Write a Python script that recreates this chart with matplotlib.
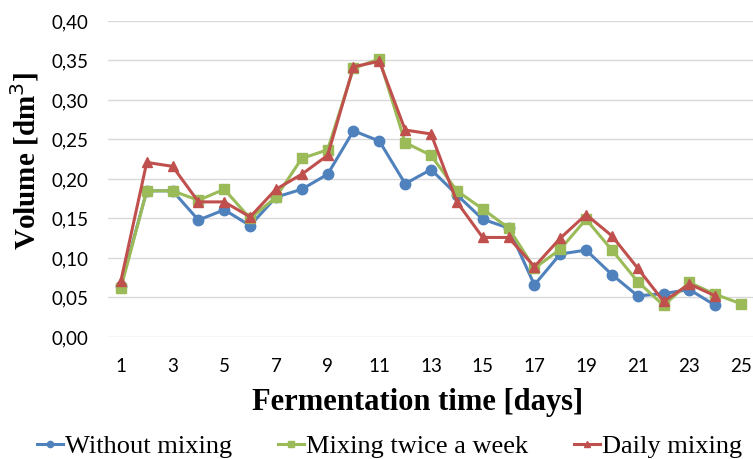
import numpy as np
import matplotlib.pyplot as plt

# data
days = list(range(1, 26))
without_mixing = [0.065, 0.185, 0.185, 0.148, 0.161, 0.141, 0.177, 0.187, 0.206, 0.261,
                  0.248, 0.194, 0.212, 0.180, 0.149, 0.138, 0.066, 0.105, 0.110, 0.079,
                  0.052, 0.055, 0.060, 0.040]
twice_a_week = [0.062, 0.185, 0.185, 0.173, 0.187, 0.150, 0.177, 0.226, 0.237, 0.340,
                0.352, 0.246, 0.230, 0.185, 0.162, 0.138, 0.087, 0.111, 0.149, 0.110,
                0.070, 0.040, 0.069, 0.054, 0.042]
daily_mixing = [0.071, 0.221, 0.216, 0.171, 0.171, 0.152, 0.187, 0.206, 0.230, 0.342,
                0.349, 0.262, 0.257, 0.171, 0.126, 0.126, 0.089, 0.125, 0.155, 0.128,
                0.087, 0.045, 0.067, 0.052]
labels = ["Without mixing", "Mixing twice a week", "Daily mixing"]
yticks = [0.00, 0.05, 0.10, 0.15, 0.20, 0.25, 0.30, 0.35, 0.40]

fig = plt.figure(figsize=(7.53, 4.59), dpi=100)
ax = fig.add_axes([0.1434, 0.2658, 0.858, 0.6885])

series = [(without_mixing, "#4F81BD", "o"),
          (twice_a_week, "#9BBB59", "s"),
          (daily_mixing, "#C0504D", "^")]
for (vals, col, mk), lab in zip(series, labels):
    ax.plot(days[:len(vals)], vals, color=col, marker=mk, markersize=7.5,
            linewidth=2.2, label=lab)

ax.set_xlim(0.5, 25.5)
ax.set_ylim(0, 0.40)
ax.set_yticks(yticks)
ax.set_yticklabels([f"{v:.2f}".replace(".", ",") for v in yticks],
                   fontfamily="Lato", fontsize=13.5)
ax.set_xticks(days[::2])
ax.set_xticklabels([str(d) for d in days[::2]], fontfamily="Lato", fontsize=13.5)
ax.tick_params(axis="both", length=0)
ax.tick_params(axis="x", pad=15)
ax.tick_params(axis="y", pad=14)
ax.grid(axis="y", color="#D9D9D9", linewidth=1)
ax.set_axisbelow(True)
for s in ax.spines.values():
    s.set_visible(False)

ax.set_ylabel("Volume [dm$^3$]", fontfamily="Liberation Serif",
              fontweight="bold", fontsize=21)
ax.yaxis.set_label_coords(-0.103, 0.557)
ax.set_xlabel("Fermentation time [days]", fontfamily="Liberation Serif",
              fontweight="bold", fontsize=22)
ax.xaxis.set_label_coords(0.479, -0.161)

fig.legend(loc="center", bbox_to_anchor=(0.517, 0.027), ncol=3, frameon=False,
           prop={"family": "Liberation Serif", "size": 19},
           handlelength=1.0, handletextpad=0.05, columnspacing=1.75, markerscale=0.6,
           borderpad=0.1)

fig.savefig("out.png", dpi=100)
